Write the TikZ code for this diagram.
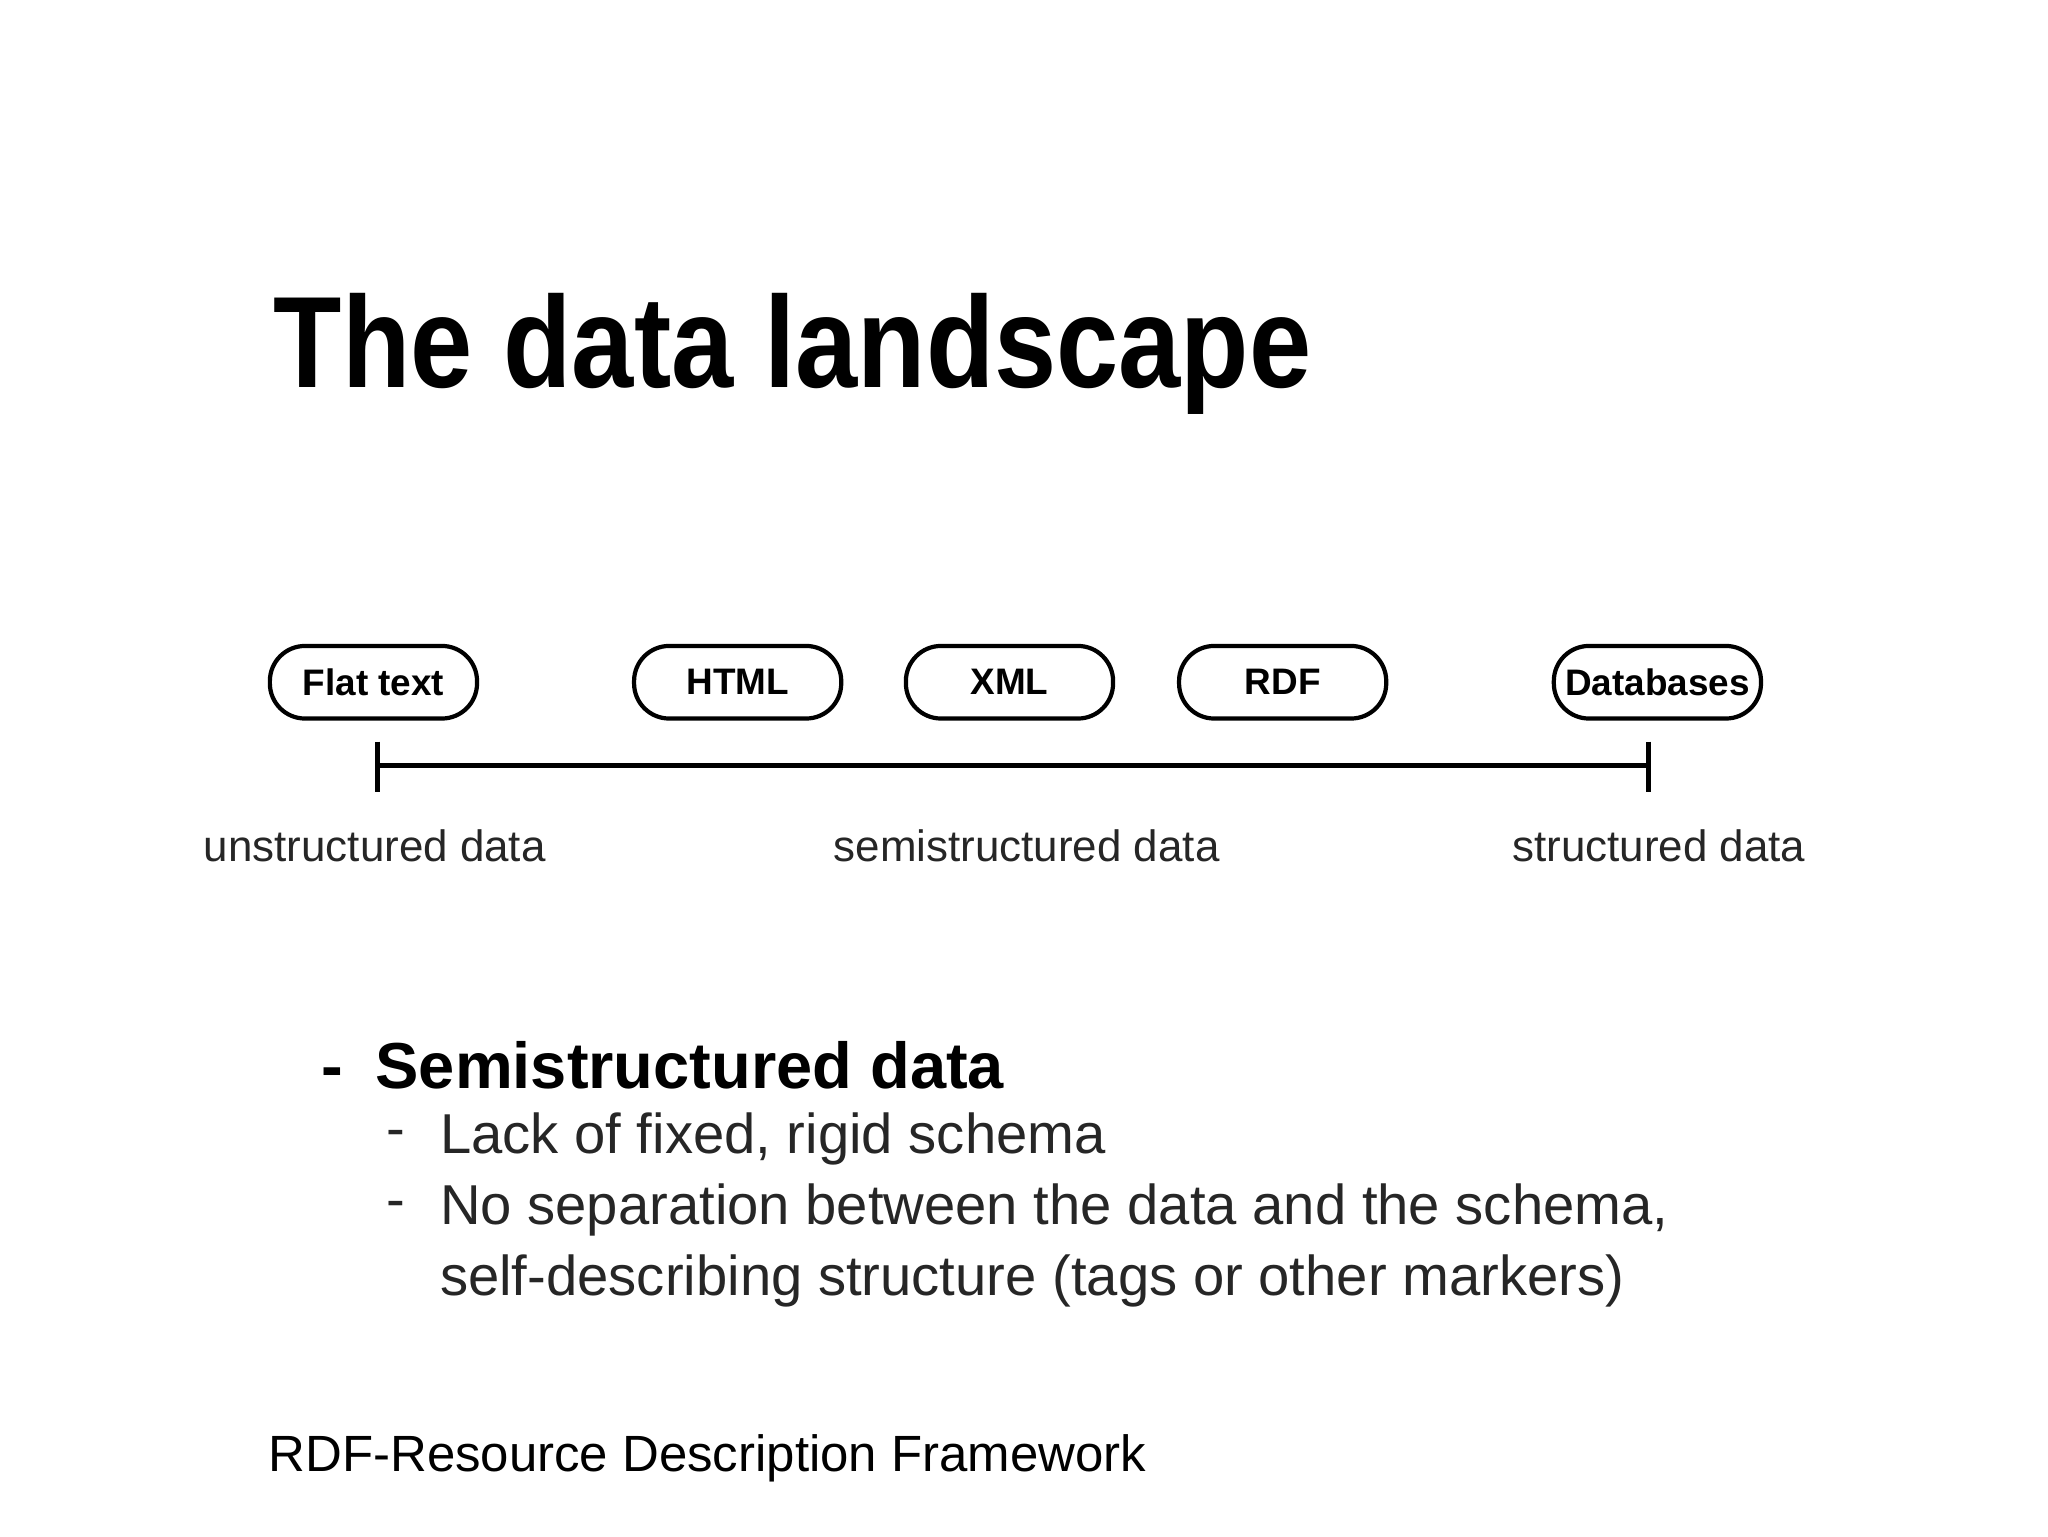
\documentclass[tikz,border=0pt]{standalone}
\usepackage{fontspec}
\setmainfont{Liberation Sans}
\begin{document}
\begin{tikzpicture}[x=0.013196cm,y=-0.013196cm,
  pill/.style={draw,line width=1.2pt,rounded corners=10pt,minimum width=157*0.013196cm,minimum height=55*0.013196cm,font=\bfseries\fontsize{10.5}{13}\selectfont,inner sep=0pt},
  axislbl/.style={font=\fontsize{12.5}{15}\selectfont,text=black!85,inner sep=0pt},
  sub/.style={font=\fontsize{16}{19}\selectfont,text=black!85,anchor=west,inner sep=0pt}]
\useasboundingbox (0,0) rectangle (1552,1164);
\node[anchor=west,inner sep=0pt,xscale=0.86,font=\bfseries\fontsize{37}{44}\selectfont] (title) at (207,268) {The data landscape};
\node[pill] (flat) at (283,517) {Flat text};
\node[pill] (html) at (559,517) {HTML};
\node[pill] (xml) at (765,517) {XML};
\node[pill] (rdf) at (972,517) {RDF};
\node[pill] (db) at (1256,517) {Databases};
\coordinate (l) at (286,580);
\coordinate (r) at (1249,580);
\draw[line width=1.4pt] (l) -- (r);
\draw[line width=1.4pt] (286,562) -- (286,600);
\draw[line width=1.4pt] (1249,562) -- (1249,600);
\node[axislbl] (u) at (284,641) {unstructured data};
\node[axislbl] (s) at (778,641) {semistructured data};
\node[axislbl] (st) at (1257,641) {structured data};
\node[anchor=west,inner sep=0pt,font=\bfseries\fontsize{18.5}{22}\selectfont] (b1) at (243,807) {-\hspace{0.5em}Semistructured data};
\node[sub] (d1) at (292,863) {-};
\node[sub] (s1) at (333,863) {Lack of fixed, rigid schema};
\node[sub] (d2) at (292,917) {-};
\node[sub] (s2) at (333,917) {No separation between the data and the schema,};
\node[sub] (s3) at (333,971) {self-describing structure (tags or other markers)};
\node[anchor=west,inner sep=0pt,font=\fontsize{14.5}{17}\selectfont] (foot) at (203,1105) {RDF-Resource Description Framework};
\end{tikzpicture}
\end{document}
